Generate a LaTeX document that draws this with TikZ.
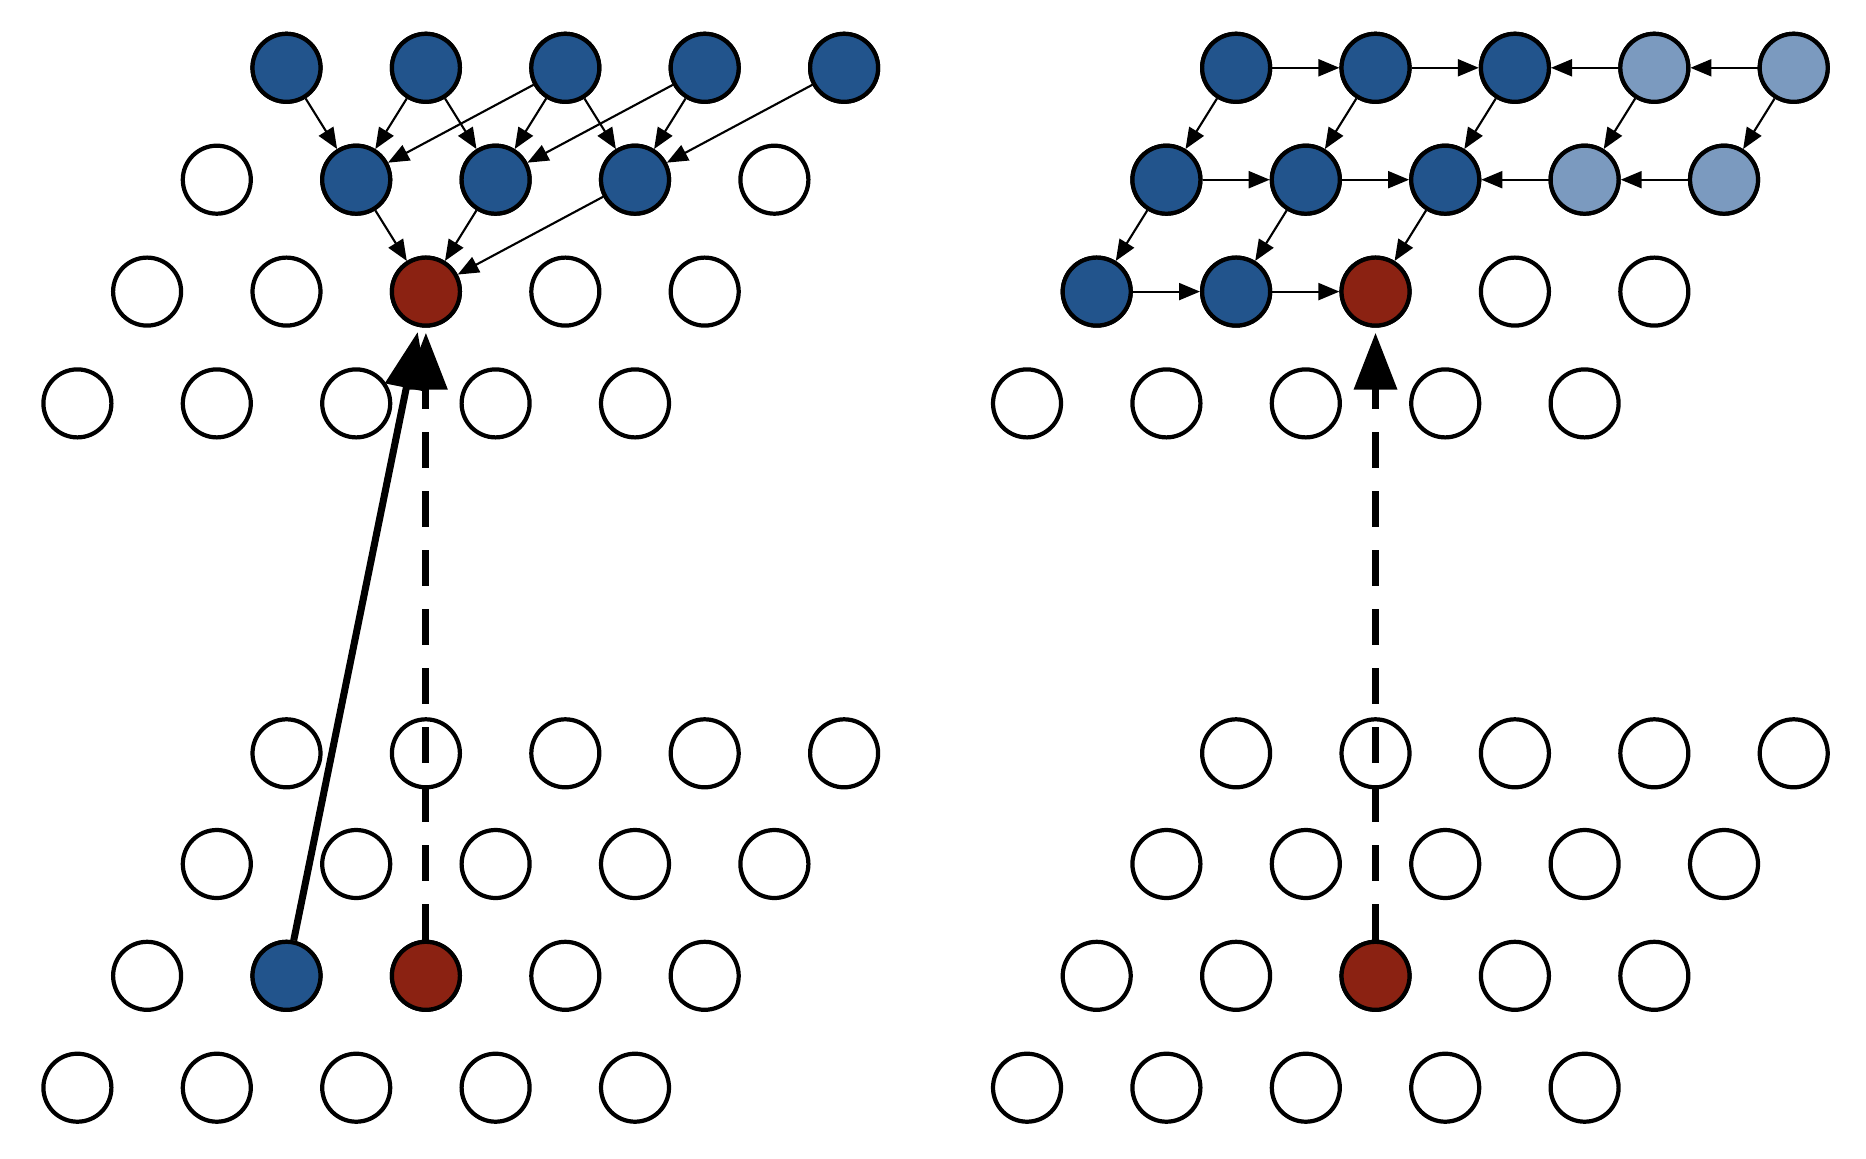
\documentclass[tikz,border=0pt]{standalone}
\usepackage{xcolor}
\usepackage{tikz}
\usetikzlibrary{arrows.meta}
\definecolor{pblue}{HTML}{22548C}
\definecolor{plight}{HTML}{7B9ABF}
\definecolor{pred}{HTML}{8B2212}

\begin{document}
\begin{tikzpicture}[
    cell/.style={circle,draw,line width=1.2pt,fill=white,
                 minimum size=0.68cm,inner sep=0pt},
    link/.style={line width=0.6pt,-{Triangle[length=2.1mm,width=1.7mm]}},
    jump/.style={line width=2pt,-{Triangle[length=5.7mm,width=4.2mm]},
                 shorten >=0.5mm}]
  \useasboundingbox (0,0) rectangle (18.66,-11.58);
  % sites: L = left panel, R = right panel, then row and column
  \foreach \p/\xo in {L/0.774,R/10.27}
    \foreach \r/\y/\s in {1/-0.678/3,2/-1.797/2,3/-2.916/1,4/-4.034/0,
                          5/-7.533/3,6/-8.640/2,7/-9.758/1,8/-10.877/0}
      \foreach \c in {0,...,4}
        \node[cell] (\p\r\c) at ({\xo+(\c+\s/2)*1.394},\y) {};
  % coloured sites
  \foreach \n in {L10,L11,L12,L13,L14,L21,L22,L23,L71,
                  R10,R11,R12,R20,R21,R22,R30,R31}
    \node[cell,fill=pblue] (\n) at (\n) {};
  \foreach \n in {R13,R14,R23,R24}
    \node[cell,fill=plight] (\n) at (\n) {};
  \foreach \n in {L32,L72,R32,R72}
    \node[cell,fill=pred] (\n) at (\n) {};
  % left panel
  \foreach \j in {1,2,3} {
    \pgfmathtruncatemacro\a{\j-1}
    \pgfmathtruncatemacro\b{\j+1}
    \draw[link] (L1\a) -- (L2\j);
    \draw[link] (L1\j) -- (L2\j);
    \draw[link] (L1\b) -- (L2\j);
    \draw[link] (L2\j) -- (L32);
  }
  % right panel
  \foreach \j in {0,...,4} \draw[link] (R1\j) -- (R2\j);
  \foreach \j in {0,1,2} \draw[link] (R2\j) -- (R3\j);
  \foreach \r in {1,2} {
    \draw[link] (R\r0) -- (R\r1);
    \draw[link] (R\r1) -- (R\r2);
    \draw[link] (R\r4) -- (R\r3);
    \draw[link] (R\r3) -- (R\r2);
  }
  \draw[link] (R30) -- (R31);
  \draw[link] (R31) -- (R32);
  % long jumps
  \draw[jump] (L71) -- (L32);
  \draw[jump,dash pattern=on 3.6mm off 2.3mm] (L72) -- (L32);
  \draw[jump,dash pattern=on 3.6mm off 2.3mm] (R72) -- (R32);
\end{tikzpicture}
\end{document}
